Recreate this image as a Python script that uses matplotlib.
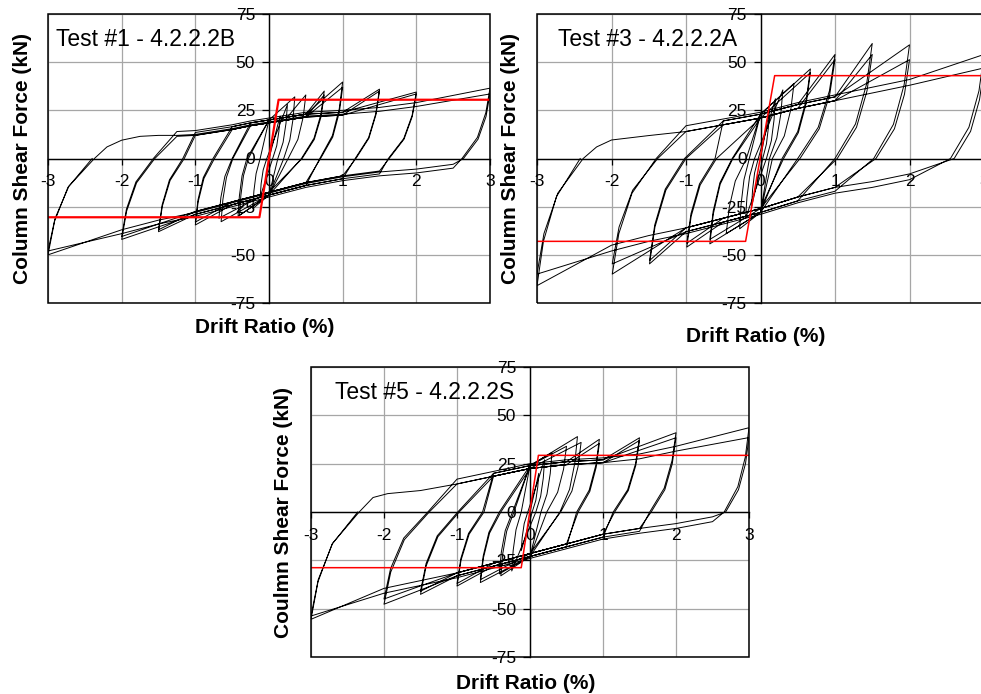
import matplotlib
matplotlib.use("Agg")
import matplotlib.pyplot as plt
from matplotlib.patches import Rectangle

plt.rcParams['font.family'] = ['Liberation Sans', 'DejaVu Sans']

# ---- Test #1 - 4.2.2.2B ----
t1_pos_drift = [0.15, 0.25, 0.35, 0.5, 0.75, 0.75, 1.0, 1.0, 1.5, 1.5, 2.0, 2.0, 3.0, 3.0]
t1_pos_force = [22, 28, 32, 33, 35, 33, 39.7, 37, 36, 35, 34.5, 33.5, 36.5, 33.5]
t1_pos_zero = [0.05, 0.12, 0.2, 0.26, 0.44, 0.45, 0.69, 0.7, 1.17, 1.18, 1.62, 1.63, 2.62, 2.64]
t1_neg_drift = [-0.12, -0.22, -0.4, -0.42, -0.65, -0.68, -1.0, -1.0, -1.5, -1.5, -2.0, -2.0, -3.0, -3.0]
t1_neg_force = [-20, -26, -29.5, -30, -32.8, -31, -34.5, -33, -38, -37, -42, -40.5, -48, -50]
t1_neg_zero = [-0.03, -0.12, -0.28, -0.3, -0.49, -0.5, -0.74, -0.76, -1.15, -1.17, -1.55, -1.57, -2.37, -2.4]
t1_shift = [0, 0, 0, 0, 0, -1.5, 0, -1.5, 0, -1.5, 0, -1.5, 1, -1]
t1_up_x = [-2.2, -2.0, -1.75, -1.5, -1.25, -1.0, -0.75, -0.5, -0.25, 0, 0.25, 0.5, 0.75, 1.0, 1.5, 2.0, 2.5, 3.0]
t1_up_f = [7, 10.5, 12.5, 13, 13, 13.5, 15, 16.5, 18.5, 20, 21.5, 23, 23.5, 24, 25.5, 28, 31, 33]
t1_lo_x = [2.5, 2.0, 1.5, 1.0, 0.5, 0, -0.5, -1.0, -1.5, -2.0, -2.5, -3.0]
t1_lo_f = [-4, -6.5, -8, -10.5, -14, -19, -24, -29, -33, -38, -43, -48]
t1_bilinear_x = [-3, -0.13, 0.13, 3]
t1_bilinear_f = [-30.5, -30.5, 30.5, 30.5]

# ---- Test #3 - 4.2.2.2A ----
t3_pos_drift = [0.12, 0.2, 0.3, 0.45, 0.67, 0.67, 1.0, 1.0, 1.5, 1.5, 2.0, 2.0, 3.0, 3.0]
t3_pos_force = [25, 31, 35.6, 39, 46.5, 44.6, 54, 51.3, 59.7, 54, 59, 51.3, 54, 47]
t3_pos_zero = [0.03, 0.08, 0.12, 0.16, 0.29, 0.31, 0.5, 0.53, 1.0, 1.03, 1.52, 1.55, 2.55, 2.6]
t3_neg_drift = [-0.12, -0.2, -0.28, -0.46, -0.68, -0.68, -0.99, -0.99, -1.49, -1.49, -1.99, -1.99, -3.0, -3.0]
t3_neg_force = [-25, -31, -36.5, -39, -44.3, -42, -46, -44, -54.7, -53, -54.7, -60, -60, -66]
t3_neg_zero = [-0.03, -0.08, -0.15, -0.19, -0.37, -0.38, -0.59, -0.61, -1.0, -1.02, -1.38, -1.4, -2.38, -2.42]
t3_shift = [0, 0, 0, 0, 0, -2, 0, -2, 0, -2, 0, -2, 1, -2]
t3_up_x = [-2.2, -2.0, -1.5, -1.0, -0.5, 0, 0.5, 1.0, 1.5, 2.0, 2.5, 3.0]
t3_up_f = [8, 11.6, 13.9, 16, 19.5, 23, 28, 32, 36, 40, 43, 46]
t3_lo_x = [2.5, 2.0, 1.5, 1.0, 0.5, 0, -0.5, -1.0, -1.5, -2.0, -2.5, -3.0]
t3_lo_f = [-6, -10, -14, -17, -22, -28, -33, -38, -42, -47, -52, -58]
t3_bilinear_x = [-3, -0.2, 0.19, 3]
t3_bilinear_f = [-43, -43, 43, 43]

# ---- Test #5 - 4.2.2.2S ----
t5_pos_drift = [0.12, 0.2, 0.3, 0.5, 0.65, 0.7, 0.95, 0.95, 1.5, 1.5, 2.0, 2.0, 3.0, 3.0]
t5_pos_force = [20, 27, 30.7, 34, 39, 36, 37.6, 35.5, 38.4, 37, 41, 38.4, 43.6, 38.5]
t5_pos_zero = [0.03, 0.08, 0.15, 0.23, 0.41, 0.42, 0.64, 0.66, 1.14, 1.16, 1.64, 1.66, 2.66, 2.68]
t5_neg_drift = [-0.12, -0.25, -0.4, -0.42, -0.68, -0.68, -1.0, -1.0, -1.5, -1.5, -2.0, -2.0, -3.0, -3.0]
t5_neg_force = [-20, -30.5, -33, -32, -36.5, -35, -38.3, -37, -42.6, -41, -47.7, -45, -53.8, -55.5]
t5_neg_zero = [-0.03, -0.12, -0.22, -0.24, -0.4, -0.42, -0.63, -0.65, -0.97, -0.99, -1.38, -1.4, -2.34, -2.36]
t5_shift = [0, 0, 0, 0, 0, -1.5, 0, -1.5, 0, -1.5, 0, -1.5, 1, -1.5]
t5_up_x = [-2.15, -1.95, -1.5, -1.0, -0.5, 0, 0.5, 1.0, 1.5, 2.0, 2.5, 3.0]
t5_up_f = [9, 11, 12.6, 16, 20, 24, 26, 27, 29, 33, 36, 39]
t5_lo_x = [2.5, 2.0, 1.5, 1.0, 0.5, 0, -0.5, -1.0, -1.5, -2.0, -2.5, -3.0]
t5_lo_f = [-4, -7.5, -10, -13, -18, -23, -28, -33, -37, -41, -46, -52]
t5_bilinear_x = [-3, -0.12, 0.115, 3]
t5_bilinear_f = [-28.8, -28.8, 29.3, 29.3]

x_ticks = [-3, -2, -1, 0, 1, 2, 3]
y_ticks = [-75, -50, -25, 0, 25, 50, 75]


def hysteresis_path(pd, pf, pz, nd, nf, nz, shift, up_x, up_f, lo_x, lo_f):
    # walk the cycles in order: upper branch -> +peak -> unload -> lower branch -> -peak -> unload
    xs, ys = [0.0], [0.0]
    start = 0.0
    for i in range(len(pd)):
        gap = max(0.1, 0.3 * pd[i])
        for bx, bf in zip(up_x, up_f):
            if start + 0.1 < bx < pd[i] - gap:
                xs.append(bx)
                ys.append(bf + shift[i])
        run = pd[i] - pz[i]
        xs += [pd[i], pd[i] - 0.15 * run, pd[i] - 0.45 * run, pz[i]]
        ys += [pf[i], 0.65 * pf[i], 0.3 * pf[i], 0.0]
        gap = max(0.1, 0.3 * abs(nd[i]))
        for bx, bf in zip(lo_x, lo_f):
            if nd[i] + gap < bx < pz[i] - 0.1:
                xs.append(bx)
                ys.append(bf - shift[i])
        run = nz[i] - nd[i]
        xs += [nd[i], nd[i] + 0.15 * run, nd[i] + 0.45 * run, nz[i]]
        ys += [nf[i], 0.65 * nf[i], 0.3 * nf[i], 0.0]
        start = nz[i]
    return xs, ys


def draw_panel(ax, title, ylabel, loop, bil_x, bil_f, red_lw, title_dx, ylab_dx, xlab_dy):
    ax.set_xlim(-3, 3)
    ax.set_ylim(-75, 75)
    ax.set_xticks(x_ticks)
    ax.set_yticks(y_ticks)
    ax.set_xticklabels([str(v) for v in x_ticks])
    ax.set_yticklabels([str(v) for v in y_ticks])
    ax.grid(True, color='#a6a6a6', lw=0.9)
    ax.set_axisbelow(True)

    ax.spines['left'].set_position(('data', 0))
    ax.spines['bottom'].set_position(('data', 0))
    ax.spines['top'].set_visible(False)
    ax.spines['right'].set_visible(False)
    for s in ['left', 'bottom']:
        ax.spines[s].set_linewidth(1.0)
    ax.add_patch(Rectangle((0, 0), 1, 1, transform=ax.transAxes, fill=False,
                           lw=1.1, ec='black', clip_on=False, zorder=5))
    ax.tick_params(axis='x', direction='out', length=4.5, width=0.9, pad=7, labelsize=12.5)
    ax.tick_params(axis='y', direction='out', length=5, width=0.9, pad=5, labelsize=12.5)

    xs, ys = hysteresis_path(*loop)
    ax.plot(xs, ys, color='black', lw=0.7, zorder=3)
    ax.plot(bil_x, bil_f, color='red', lw=red_lw, zorder=4)

    ax.text(title_dx, 0.913, title, transform=ax.transAxes, fontsize=16.5,
            ha='left', va='center', zorder=6)
    ax.set_ylabel(ylabel, fontsize=15, fontweight='bold')
    ax.yaxis.set_label_coords(ylab_dx, 0.5)
    ax.set_xlabel('Drift Ratio (%)', fontsize=15, fontweight='bold')
    ax.xaxis.set_label_coords(0.49, xlab_dy)


fig = plt.figure(figsize=(9.81, 6.94), dpi=100)
ax1 = fig.add_axes([48 / 981, 1 - 303 / 694, 442 / 981, 289 / 694])
ax2 = fig.add_axes([537 / 981, 1 - 303 / 694, 447 / 981, 289 / 694])
ax3 = fig.add_axes([311 / 981, 1 - 657 / 694, 438 / 981, 290 / 694])

draw_panel(ax1, 'Test #1 - 4.2.2.2B', 'Column Shear Force (kN)',
           (t1_pos_drift, t1_pos_force, t1_pos_zero, t1_neg_drift, t1_neg_force, t1_neg_zero,
            t1_shift, t1_up_x, t1_up_f, t1_lo_x, t1_lo_f),
           t1_bilinear_x, t1_bilinear_f, 1.6, 0.018, -0.036, -0.052)
draw_panel(ax2, 'Test #3 - 4.2.2.2A', 'Column Shear Force (kN)',
           (t3_pos_drift, t3_pos_force, t3_pos_zero, t3_neg_drift, t3_neg_force, t3_neg_zero,
            t3_shift, t3_up_x, t3_up_f, t3_lo_x, t3_lo_f),
           t3_bilinear_x, t3_bilinear_f, 1.1, 0.047, -0.038, -0.083)
draw_panel(ax3, 'Test #5 - 4.2.2.2S', 'Coulmn Shear Force (kN)',
           (t5_pos_drift, t5_pos_force, t5_pos_zero, t5_neg_drift, t5_neg_force, t5_neg_zero,
            t5_shift, t5_up_x, t5_up_f, t5_lo_x, t5_lo_f),
           t5_bilinear_x, t5_bilinear_f, 1.1, 0.055, -0.041, -0.059)

fig.savefig('out.png', dpi=100)
